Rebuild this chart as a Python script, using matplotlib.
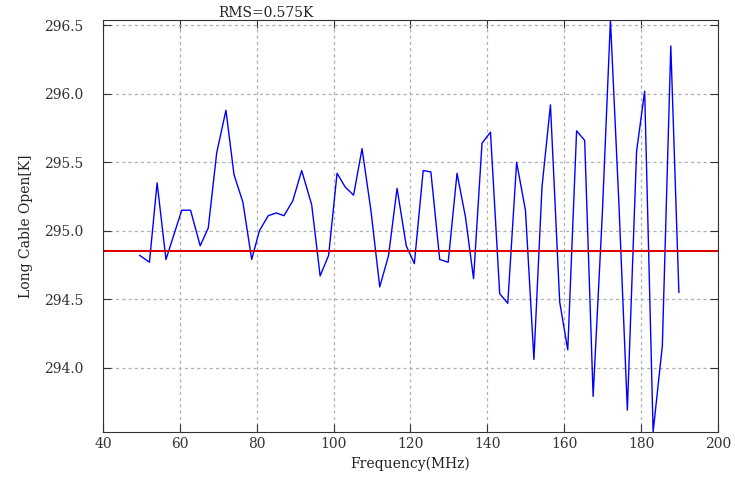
import matplotlib
matplotlib.use('Agg')
import matplotlib.pyplot as plt

freq = [49.6, 52.1, 54.1, 56.4, 60.5, 62.8, 65.3, 67.4, 69.6, 72.0,
        74.1, 76.4, 78.7, 80.7, 83.0, 85.1, 87.1, 89.4, 91.7, 94.3,
        96.5, 98.7, 100.9, 103.0, 105.2, 107.4, 109.7, 112.0, 114.3, 116.5,
        118.9, 121.0, 123.3, 125.3, 127.6, 129.8, 132.1, 134.3, 136.4, 138.6,
        140.8, 143.2, 145.3, 147.6, 149.9, 152.1, 154.2, 156.4, 158.8, 160.9,
        163.2, 165.3, 167.5, 169.9, 172.0, 174.2, 176.4, 178.8, 180.9, 183.1,
        185.5, 187.7, 189.8]
temp = [294.82, 294.77, 295.35, 294.79, 295.15, 295.15, 294.89, 295.02, 295.57, 295.88,
        295.41, 295.21, 294.79, 295.00, 295.11, 295.13, 295.11, 295.22, 295.44, 295.19,
        294.67, 294.82, 295.42, 295.32, 295.26, 295.60, 295.15, 294.59, 294.82, 295.31,
        294.89, 294.76, 295.44, 295.43, 294.79, 294.77, 295.42, 295.10, 294.65, 295.64,
        295.72, 294.54, 294.47, 295.50, 295.15, 294.06, 295.32, 295.92, 294.48, 294.13,
        295.73, 295.66, 293.79, 295.13, 296.54, 295.20, 293.69, 295.58, 296.02, 293.53,
        294.16, 296.35, 294.55]
mean_level = 294.85
rms_label = 'RMS=0.575K'

plt.rcParams['font.family'] = 'DejaVu Serif'
plt.rcParams['font.size'] = 10

fig = plt.figure(figsize=(7.35, 4.87), dpi=100)
ax = fig.add_axes([0.140, 0.113, 0.837, 0.846])

ax.plot(freq, temp, color='#0000ff', linewidth=1.0)
ax.axhline(mean_level, color='#dd0000', linewidth=1.5)

ax.set_xlim(40, 200)
ax.set_ylim(min(temp), max(temp))
ax.set_yticks([294.0, 294.5, 295.0, 295.5, 296.0, 296.5])
ax.set_yticklabels(['294.0', '294.5', '295.0', '295.5', '296.0', '296.5'])
ax.grid(True, linestyle=(0, (2.5, 2.5)), color='#b0b0b0', linewidth=0.9)
ax.tick_params(direction='in', top=True, right=True, length=6, colors='#333333')
ax.tick_params(axis='y', pad=14)
for s in ax.spines.values():
    s.set_color('#333333')

ax.text(70, max(temp), rms_label, ha='left', va='bottom', color='#222222')
ax.set_xlabel('Frequency(MHz)', color='#222222')
ax.set_ylabel('Long Cable Open[K]', color='#222222', labelpad=8)

fig.savefig('out.png', dpi=100)
